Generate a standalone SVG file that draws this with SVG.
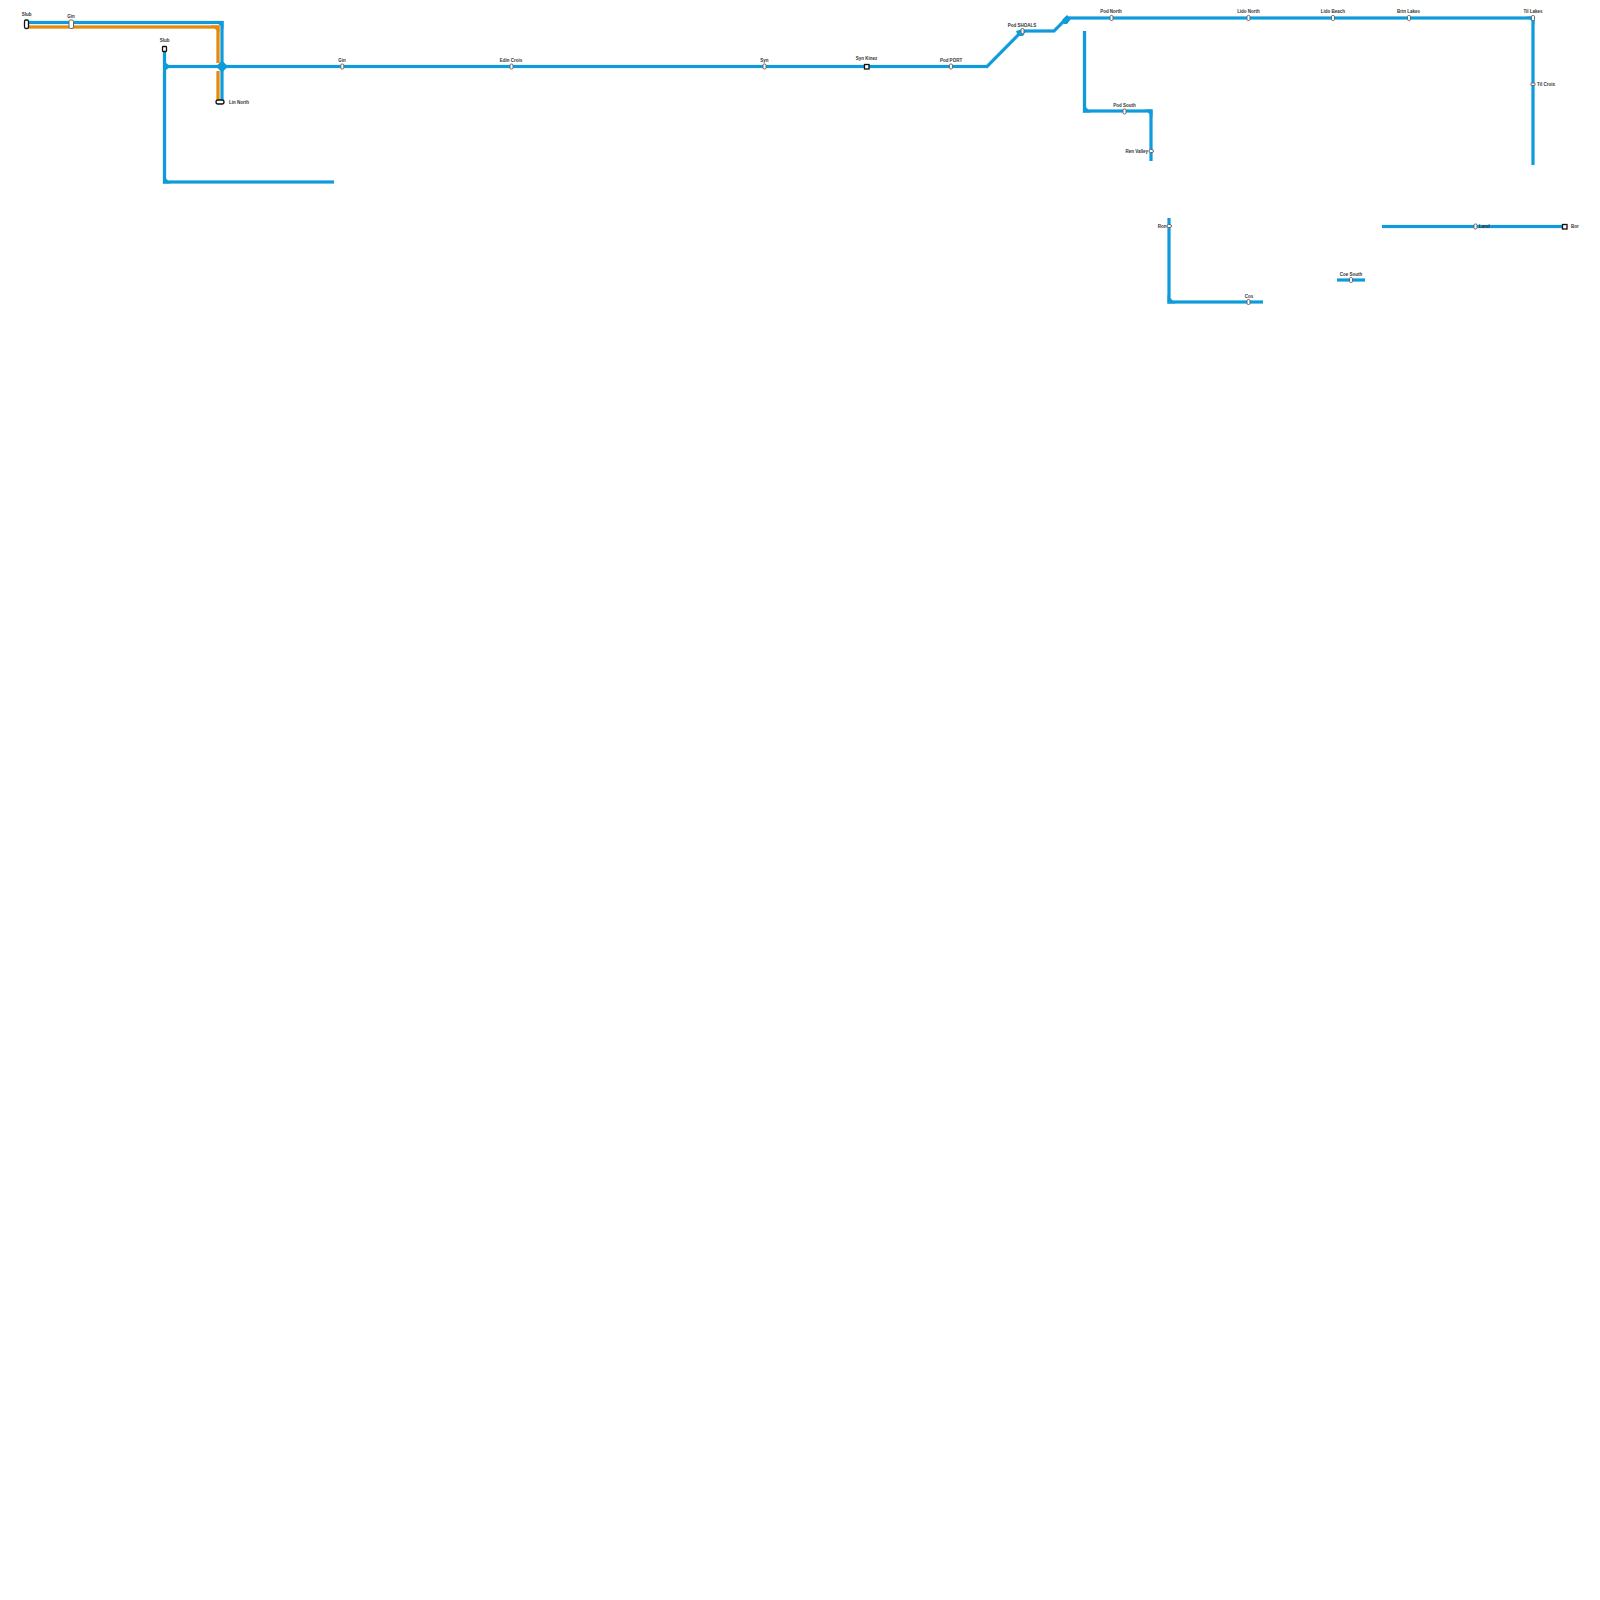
<svg xmlns="http://www.w3.org/2000/svg" width="1600" height="1600" viewBox="0 0 1600 1600">
<style>
.halo{fill:none;stroke:#cfeaf7;stroke-width:4.200}
.halo-o{fill:none;stroke:#f7e0bf;stroke-width:4}
.b{fill:none;stroke:#0f9bdb;stroke-width:3}
.o{fill:none;stroke:#e58a0c;stroke-width:3}
.j{fill:#0f9bdb}
.jo{fill:#e58a0c}
.st{fill:#fff;stroke:#666;stroke-width:1}
.bx{fill:#fff;stroke:#111;stroke-width:1.300}
text{font-family:"Liberation Sans",Arial,sans-serif;font-size:4.500px;font-weight:700;fill:#333}
.m{text-anchor:middle}
.e{text-anchor:end}
</style>
<rect width="1600" height="1600" fill="#fff"/>
<g id="connectors">
<path class="halo-o" d="M27 27H218V63M218 71V101"/>
<path class="halo" d="M27 22.500H222V101"/>
<path class="halo" d="M164 66.500H987L1022 31H1054L1067 18H1533V165"/>
<path class="halo" d="M164.500 49V182H334"/>
<path class="halo" d="M1084.500 31V111H1151V161"/>
<path class="halo" d="M1169 218V302H1263"/>
<path class="halo" d="M1337 280H1365"/>
<path class="halo" d="M1382 226.500H1565"/>
<path class="o" d="M27 27H218V63M218 71V101"/>
<path class="b" d="M27 22.500H222V101"/>
<path class="b" d="M164 66.500H987L1022 31H1054L1067 18H1533V165"/>
<path class="b" d="M164.500 49V182H334"/>
<path class="b" d="M1084.500 31V111H1151V161"/>
<path class="b" d="M1169 218V302H1263"/>
<path class="b" d="M1337 280H1365"/>
<path class="b" d="M1382 226.500H1565"/>
<path class="j" d="M222 60.500L228 66.500L222 72.500L216 66.500Z"/>
<path class="j" d="M163 60.500L170.500 66.500L163 72.500Z"/>
<path class="j" d="M163 175L170.500 183.500H163Z"/>
<path class="j" d="M223.500 21V29L215.500 21Z"/>
<path class="jo" d="M211 25.500H219.500V33Z"/>
<path class="j" d="M1083 104L1091 112.500H1083Z"/>
<path class="j" d="M1152.500 109.500V117L1145 109.500Z"/>
<path class="j" d="M1167.500 295L1175.500 303.500H1167.500Z"/>
<path class="j" d="M1534.500 16.500V24L1527 16.500Z"/>
<path class="j" d="M1016 31L1021 29.500L1026 31L1023 36H1018Z"/>
<path class="j" d="M1062 20L1067 15L1071 19L1067 24H1064Z"/>
</g>
<g id="n-slub1"><rect class="bx" x="24.500" y="20" width="4" height="8.500" rx="1.500"/><text class="m" x="26.500" y="16">Slub</text></g>
<g id="n-gin1"><rect class="st" x="69" y="20" width="4.500" height="8.500" rx="1.500"/><text class="m" x="71" y="18">Gin</text></g>
<g id="n-slub2"><rect class="bx" x="162.500" y="46.500" width="4" height="5" rx=".8"/><text class="m" x="164.500" y="42">Slub</text></g>
<g id="n-linnorth"><rect class="bx" x="216" y="100" width="8" height="4" rx="2"/><text x="229" y="103.500">Lin North</text></g>
<g id="n-gin2"><rect class="st" x="340.800" y="64" width="3" height="5" rx="1.200"/><text class="m" x="342" y="62">Gin</text></g>
<g id="n-edin"><rect class="st" x="510" y="64" width="3" height="5" rx="1.200"/><text class="m" x="511" y="62">Edin Crois</text></g>
<g id="n-syn"><rect class="st" x="763" y="64" width="3" height="5" rx="1.200"/><text class="m" x="764.500" y="62">Syn</text></g>
<g id="n-synkinez"><rect class="bx" x="864.500" y="64.500" width="4.500" height="4.500"/><text class="m" x="866.500" y="60">Syn Kinez</text></g>
<g id="n-podport"><rect class="st" x="949.500" y="64" width="3" height="5" rx="1.200"/><text class="m" x="951" y="62">Pod PORT</text></g>
<g id="n-podshoals"><rect class="st" x="1021" y="28.500" width="3" height="5" rx="1.200"/><text class="m" x="1022" y="26.500">Pod SHOALS</text></g>
<g id="n-podnorth"><rect class="st" x="1110" y="15.500" width="3" height="5" rx="1.200"/><text class="m" x="1111" y="13">Pod North</text></g>
<g id="n-lidonorth"><rect class="st" x="1247" y="15.500" width="3" height="5" rx="1.200"/><text class="m" x="1248.500" y="13">Lido North</text></g>
<g id="n-lidobeach"><rect class="st" x="1331.500" y="15.500" width="3" height="5" rx="1.200"/><text class="m" x="1333" y="13">Lido Beach</text></g>
<g id="n-brinlakes"><rect class="st" x="1407.500" y="15.500" width="3" height="5" rx="1.200"/><text class="m" x="1408.500" y="13">Brin Lakes</text></g>
<g id="n-tillakes"><rect class="st" x="1531.500" y="15.500" width="3" height="5" rx="1.200"/><text class="m" x="1533" y="13">Til Lakes</text></g>
<g id="n-tilcroix"><rect class="st" x="1531" y="83" width="4" height="2.500" rx=".5"/><text x="1537" y="85.500">Til Croix</text></g>
<g id="n-podsouth"><rect class="st" x="1123" y="109" width="3" height="5" rx="1.200"/><text class="m" x="1124.500" y="106.500">Pod South</text></g>
<g id="n-renvalley"><rect class="st" x="1149" y="149.500" width="4.500" height="3" rx="1.500"/><text class="e" x="1148" y="152.500">Ren Valley</text></g>
<g id="n-ron"><rect class="st" x="1167" y="224.500" width="4.500" height="3" rx="1.500"/><text class="e" x="1166.500" y="228">Ron</text></g>
<g id="n-cos"><rect class="st" x="1247" y="299.500" width="3" height="5" rx="1.200"/><text class="m" x="1249" y="297.500">Cos</text></g>
<g id="n-coesouth"><rect class="st" x="1349.500" y="277.500" width="3" height="5" rx="1.200"/><text class="m" x="1351" y="275.500">Coe South</text></g>
<g id="n-land"><rect class="st" x="1474" y="224" width="3" height="5" rx="1.200"/><text x="1479" y="228">Land</text></g>
<g id="n-bor"><rect class="bx" x="1562.500" y="224.500" width="4.500" height="4.500"/><text x="1571" y="228">Bor</text></g>
</svg>
